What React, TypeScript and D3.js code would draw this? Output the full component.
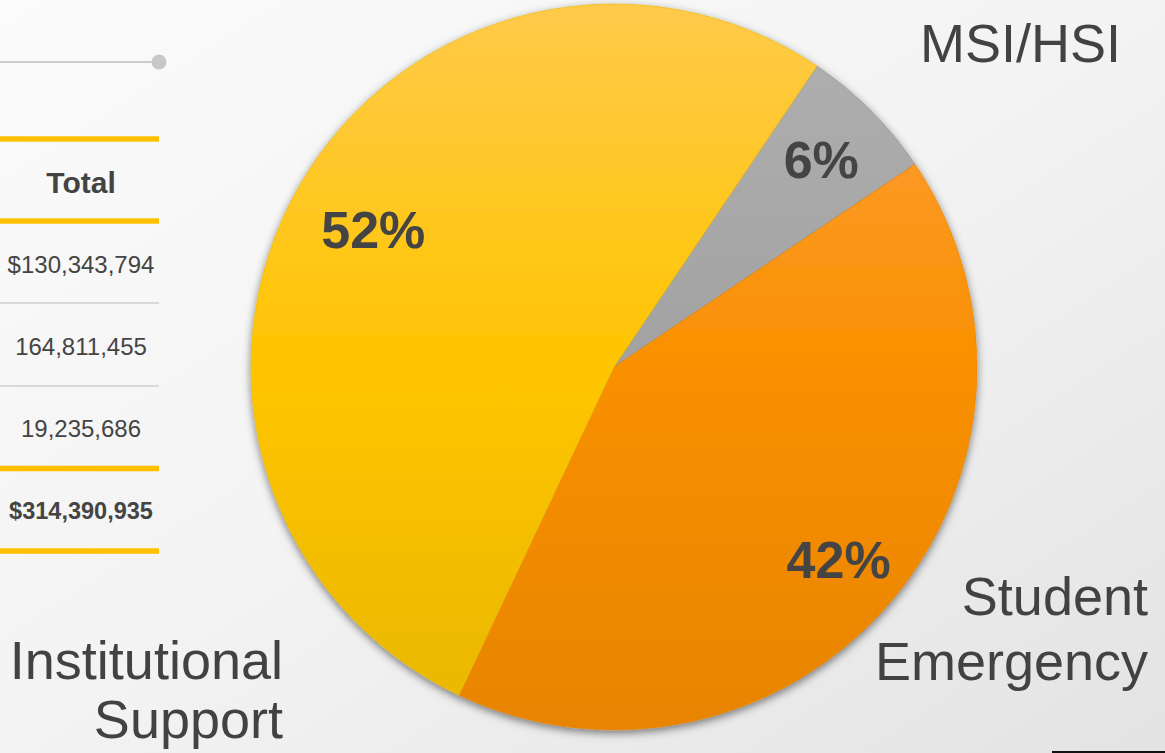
import * as d3 from "d3";
import React, { useEffect, useRef } from "react";

// slices in clockwise order, starting at the MSI/HSI wedge
const categories = ["MSI/HSI", "Student Emergency", "Institutional Support"];
const amounts = [19235686, 130343794, 164811455];
const percentLabels = ["6%", "42%", "52%"];
// table rows (top to bottom) refer to slices by index
const tableOrder = [1, 2, 0];
const tableHeader = "Total";

const sliceColors = [
  ["#b0b0b0", "#a2a2a2", "#949494"],
  ["#ffa040", "#f99000", "#e88400"],
  ["#ffca4a", "#ffc500", "#e9b700"],
];

const App: React.FC = () => {
  const svgRef = useRef<SVGSVGElement | null>(null);

  useEffect(() => {
    if (!svgRef.current) return;
    const width = 1165;
    const height = 753;
    const cx = 614;
    const cy = 367;
    const radius = 363;
    const labelRadius = [293, 296, 277];

    const svg = d3.select(svgRef.current);
    svg.selectAll("*").remove();

    const defs = svg.append("defs");
    const bg = defs
      .append("linearGradient")
      .attr("id", "bg")
      .attr("x1", 0)
      .attr("y1", 0)
      .attr("x2", 1)
      .attr("y2", 1);
    bg.append("stop").attr("offset", 0).attr("stop-color", "#fbfbfb");
    bg.append("stop").attr("offset", 0.5).attr("stop-color", "#f3f3f3");
    bg.append("stop").attr("offset", 1).attr("stop-color", "#e3e3e3");

    sliceColors.forEach((c, i) => {
      const g = defs
        .append("linearGradient")
        .attr("id", `slice${i}`)
        .attr("gradientUnits", "userSpaceOnUse")
        .attr("x1", 0)
        .attr("y1", -radius)
        .attr("x2", 0)
        .attr("y2", radius);
      g.append("stop").attr("offset", 0).attr("stop-color", c[0]);
      g.append("stop").attr("offset", 0.5).attr("stop-color", c[1]);
      g.append("stop").attr("offset", 1).attr("stop-color", c[2]);
    });

    const shadow = defs
      .append("filter")
      .attr("id", "shadow")
      .attr("x", "-10%")
      .attr("y", "-10%")
      .attr("width", "120%")
      .attr("height", "120%");
    shadow
      .append("feDropShadow")
      .attr("dx", 0)
      .attr("dy", 3)
      .attr("stdDeviation", 4)
      .attr("flood-color", "#000")
      .attr("flood-opacity", 0.5);

    svg.append("rect").attr("width", width).attr("height", height).attr("fill", "url(#bg)");

    // left table
    const font = "'Liberation Sans', Arial, Helvetica, sans-serif";
    const tableRight = 159;
    const tableX = 81;
    const fmt = d3.format(",");
    const total = d3.sum(amounts);

    const table = svg.append("g");
    table
      .append("line")
      .attr("x1", 0)
      .attr("x2", tableRight)
      .attr("y1", 62)
      .attr("y2", 62)
      .attr("stroke", "#cccccc")
      .attr("stroke-width", 2);
    table.append("circle").attr("cx", tableRight).attr("cy", 62).attr("r", 7.5).attr("fill", "#c8c8c8");

    const rowStep = 82.2;
    const rowLines = [139, 221, 303, 386, 468.5, 551];
    rowLines.forEach((y, i) => {
      const yellow = i <= 1 || i >= 4;
      table
        .append("line")
        .attr("x1", 0)
        .attr("x2", tableRight)
        .attr("y1", y)
        .attr("y2", y)
        .attr("stroke", yellow ? "#ffc000" : "#cfcfcf")
        .attr("stroke-width", yellow ? 5.5 : 1.5);
    });

    table
      .append("text")
      .attr("x", tableX)
      .attr("y", 193)
      .attr("text-anchor", "middle")
      .attr("font-family", font)
      .attr("font-weight", "bold")
      .attr("font-size", 30)
      .attr("fill", "#434343")
      .text(tableHeader);

    tableOrder.forEach((idx, r) => {
      table
        .append("text")
        .attr("x", tableX)
        .attr("y", 273 + r * rowStep)
        .attr("text-anchor", "middle")
        .attr("font-family", font)
        .attr("font-size", 24)
        .attr("fill", "#444")
        .text((r === 0 ? "$" : "") + fmt(amounts[idx]));
    });
    table
      .append("text")
      .attr("x", tableX)
      .attr("y", 519)
      .attr("text-anchor", "middle")
      .attr("font-family", font)
      .attr("font-weight", "bold")
      .attr("font-size", 23.5)
      .attr("fill", "#444")
      .text("$" + fmt(total));

    // pie
    const start = (34 * Math.PI) / 180;
    const pie = d3
      .pie<number>()
      .sort(null)
      .value((d) => d)
      .startAngle(start)
      .endAngle(start + 2 * Math.PI);
    const arcs = pie(amounts);
    const arc = d3.arc<d3.PieArcDatum<number>>().innerRadius(0).outerRadius(radius);

    const pieG = svg.append("g").attr("transform", `translate(${cx},${cy})`);
    pieG
      .append("g")
      .attr("filter", "url(#shadow)")
      .selectAll("path")
      .data(arcs)
      .join("path")
      .attr("d", arc)
      .attr("fill", (_, i) => `url(#slice${i})`)
      .attr("stroke", (_, i) => sliceColors[i][2])
      .attr("stroke-width", 0.6);

    pieG
      .selectAll("text.pct")
      .data(arcs)
      .join("text")
      .attr("class", "pct")
      .attr("transform", (d, i) => {
        const r = labelRadius[i];
        const [x, y] = d3.arc<d3.PieArcDatum<number>>().innerRadius(r).outerRadius(r).centroid(d);
        return `translate(${x},${y + 18})`;
      })
      .attr("text-anchor", "middle")
      .attr("font-family", font)
      .attr("font-weight", "bold")
      .attr("font-size", 52)
      .attr("fill", "#444")
      .text((_, i) => percentLabels[i]);

    // category labels
    const labelPos: Record<string, { x: number; lines: string[]; y: number[] }> = {
      "MSI/HSI": { x: 1121, lines: ["MSI/HSI"], y: [62] },
      "Student Emergency": { x: 1148, lines: ["Student", "Emergency"], y: [615, 680] },
      "Institutional Support": { x: 283, lines: ["Institutional", "Support"], y: [679, 738] },
    };
    categories.forEach((c) => {
      const p = labelPos[c];
      p.lines.forEach((line, j) => {
        svg
          .append("text")
          .attr("x", p.x)
          .attr("y", p.y[j])
          .attr("text-anchor", "end")
          .attr("font-family", font)
          .attr("font-size", 54)
          .attr("fill", "#424242")
          .text(line);
      });
    });

    svg
      .append("line")
      .attr("x1", 1052)
      .attr("x2", width)
      .attr("y1", 752)
      .attr("y2", 752)
      .attr("stroke", "#111")
      .attr("stroke-width", 2);
  }, []);

  return (
    <svg
      ref={svgRef}
      width={1165}
      height={753}
      style={{ position: "absolute", left: 0, top: 0, display: "block" }}
    />
  );
};

export default App;
